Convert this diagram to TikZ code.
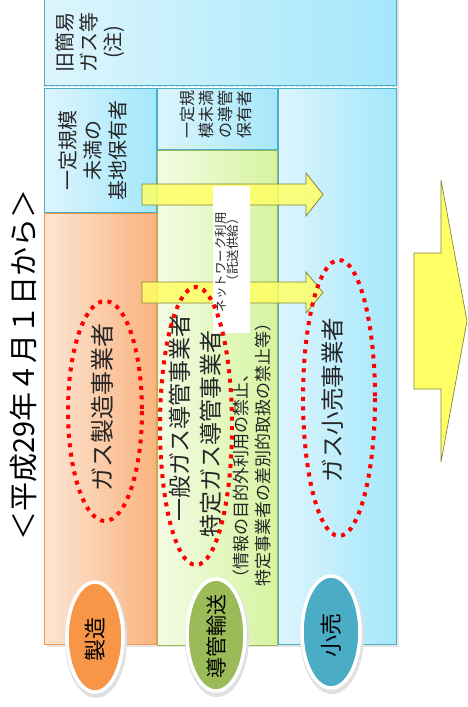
\documentclass[tikz,border=0pt]{standalone}
\usepackage{fontspec}
\setmainfont{Noto Sans CJK JP}
\usetikzlibrary{shapes.geometric}
\definecolor{orL}{HTML}{FDE6D5}
\definecolor{orR}{HTML}{F9B37E}
\definecolor{orB}{HTML}{F79646}
\definecolor{grL}{HTML}{F3FBE4}
\definecolor{grR}{HTML}{D5F4A0}
\definecolor{grB}{HTML}{9BBB59}
\definecolor{blL}{HTML}{DDF5FD}
\definecolor{blR}{HTML}{A4E7FB}
\definecolor{blB}{HTML}{4BACC6}
\definecolor{ayel}{HTML}{FFFF66}
\definecolor{aedge}{HTML}{85853F}
\definecolor{txt}{HTML}{262626}
\begin{document}
\begin{tikzpicture}[x=1pt,y=-1pt,
  bluebox/.style={left color=blL,right color=blR,draw=blB,line width=0.8pt},
  orangebox/.style={left color=orL,right color=orR,draw=orB,line width=0.8pt},
  greenbox/.style={left color=grL,right color=grR,draw=grB,line width=0.8pt},
  boxshadow/.style={fill=black!10},
  jtext/.style={rotate=90,inner sep=0pt,align=center,text=txt},
  yarrow/.style={fill=ayel,fill opacity=0.85,draw=aedge,line width=0.8pt},
  bigarrow/.style={fill=ayel,draw=aedge,line width=0.7pt},
  reddots/.style={draw=red,line width=4pt,dash pattern=on 4pt off 5.5pt},
  badge/.style={draw=white,line width=3.5pt},
  badgeshadow/.style={fill=black!12}]
\useasboundingbox (0,0) rectangle (467,707);
\clip (0,0) rectangle (467,707);

% shadows
\fill[boxshadow] (47,-2) rectangle (399,647);
\fill[white] (44,86) rectangle (396,88);

% top box
\shadedraw[bluebox] (44,-2) rectangle (396,85);
\draw[blB!40,dashed,line width=0.6pt] (44,86.5) -- (396,86.5);

% columns
\shadedraw[bluebox] (278.5,88) rectangle (396.5,644);
\shadedraw[bluebox] (44,88) rectangle (156,212);
\shadedraw[bluebox] (157.3,88) rectangle (277.3,149);
\shadedraw[orangebox] (44,213) rectangle (156,644);
\shadedraw[greenbox] (157.3,150) rectangle (277.3,645);

% arrows
\draw[yarrow] (142,184) -- (306,184) -- (306,173) -- (323,194.5) -- (306,216) -- (306,205) -- (142,205) -- cycle;
\draw[yarrow] (142,282) -- (306,282) -- (306,272) -- (323,292.5) -- (306,313) -- (306,303) -- (142,303) -- cycle;
\fill[white] (213,186) rectangle (250,333);
\draw[bigarrow] (414,253) -- (441,253) -- (441,180) -- (467,321) -- (441,462) -- (441,389) -- (414,389) -- cycle;

% texts
\node[jtext,text=black,font=\fontsize{29}{30}\selectfont] (title) at (24,365) {＜平成29年４月１日から＞};
\node[jtext,font=\fontsize{20}{24}\selectfont] (kyu) at (90,42) {旧簡易\\ガス等\\(注)};
\node[jtext,font=\fontsize{20}{25}\selectfont] (kichi) at (93,150) {一定規模\\未満の\\基地保有者};
\node[jtext,font=\fontsize{16}{19}\selectfont] (dokanho) at (216,114) {一定規\\模未満\\の導管\\保有者};
\node[jtext,font=\fontsize{24}{26}\selectfont] (seizosha) at (102,407) {ガス製造事業者};
\node[jtext,font=\fontsize{23}{25}\selectfont] (ippan) at (180,418) {一般ガス導管事業者};
\node[jtext,font=\fontsize{23}{25}\selectfont] (tokutei) at (211,434) {特定ガス導管事業者};
\node[jtext,align=left,anchor=west,font=\fontsize{17}{22}\selectfont] (kinshi) at (252,587) {（情報の目的外利用の禁止、\\特定事業者の差別的取扱の禁止等）};
\node[jtext,font=\fontsize{23.5}{25}\selectfont] (kouri) at (333,400) {ガス小売事業者};
\node[jtext,align=right,anchor=east,font=\fontsize{12.5}{12.5}\selectfont] (network) at (227,212) {ネットワーク利用\\（託送供給）};

% red dotted ellipses
\draw[reddots] (105,411) ellipse [x radius=37,y radius=110];
\draw[reddots] (196,426) ellipse [x radius=36,y radius=139];
\draw[reddots] (339,398) ellipse [x radius=36,y radius=138];

% badges
\fill[badgeshadow] (96,640) ellipse [x radius=31,y radius=58];
\draw[badge,fill=orB] (95,637) ellipse [x radius=28,y radius=55];
\fill[badgeshadow] (217,638) ellipse [x radius=32,y radius=59];
\draw[badge,fill=grB] (216,635) ellipse [x radius=29,y radius=56];
\fill[badgeshadow] (332,635) ellipse [x radius=32,y radius=59];
\draw[badge,fill=blB] (331,632) ellipse [x radius=29,y radius=56];
\node[jtext,text=black,font=\fontsize{22}{24}\selectfont] (seizo) at (95,639) {製造};
\node[jtext,text=black,font=\fontsize{21}{24}\selectfont] (yuso) at (216,636) {導管輸送};
\node[jtext,text=black,font=\fontsize{22}{24}\selectfont] (kouribadge) at (331,635) {小売};
\end{tikzpicture}
\end{document}
